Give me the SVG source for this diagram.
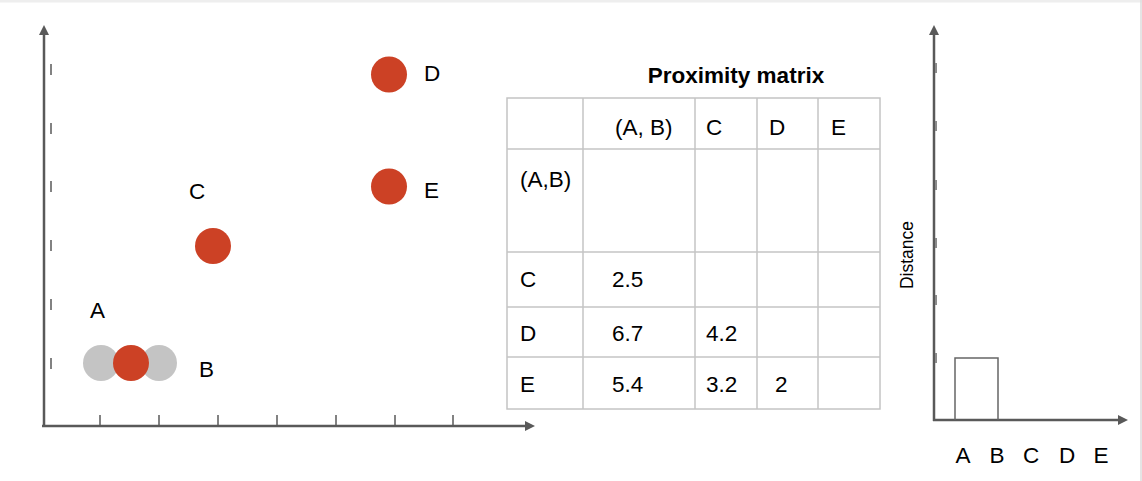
<svg xmlns="http://www.w3.org/2000/svg" width="1142" height="481" viewBox="0 0 1142 481">
<style>
text{font-family:"Liberation Sans",Arial,sans-serif;fill:#000;}
.lbl{font-size:22.5px;}
.cell{font-size:22.5px;}
.title{font-size:22.5px;font-weight:bold;}
.axis{stroke:#595959;stroke-width:2.5;fill:none;}
.tick{stroke:#595959;stroke-width:1.5;}
.rtick{stroke:#8a8a8a;stroke-width:2;}
.grid{stroke:#c4c4c4;stroke-width:1.5;fill:none;}
.red{fill:#cc4125;}
.gray{fill:#c4c4c4;}
.bar{stroke:#666;stroke-width:1.5;fill:none;}
</style>
<defs>
<marker id="arr" viewBox="0 0 10 10" refX="0" refY="5" markerWidth="10" markerHeight="10" markerUnits="userSpaceOnUse" orient="auto">
<path d="M0,0 L10,5 L0,10 z" fill="#595959"/>
</marker>
</defs>
<rect x="0" y="0" width="1142" height="2.5" fill="#eeeeee"/>
<line x1="1141" y1="0" x2="1141" y2="481" stroke="#dddddd" stroke-width="1.5"/>

<g id="connectors">
<line class="axis" x1="44" y1="427" x2="44" y2="35" marker-end="url(#arr)"/>
<line class="axis" x1="42" y1="426" x2="525" y2="426" marker-end="url(#arr)"/>
<line class="axis" x1="934" y1="421" x2="934" y2="35" marker-end="url(#arr)"/>
<line class="axis" x1="933" y1="420" x2="1118" y2="420" marker-end="url(#arr)"/>
</g>

<g id="left-ticks">
<line class="tick" x1="51" y1="64" x2="51" y2="75"/>
<line class="tick" x1="51" y1="123" x2="51" y2="134"/>
<line class="tick" x1="51" y1="181" x2="51" y2="192"/>
<line class="tick" x1="51" y1="240" x2="51" y2="251"/>
<line class="tick" x1="51" y1="299" x2="51" y2="310"/>
<line class="tick" x1="51" y1="358" x2="51" y2="369"/>
<line class="tick" x1="100" y1="415" x2="100" y2="426"/>
<line class="tick" x1="159" y1="415" x2="159" y2="426"/>
<line class="tick" x1="218" y1="415" x2="218" y2="426"/>
<line class="tick" x1="277" y1="415" x2="277" y2="426"/>
<line class="tick" x1="336" y1="415" x2="336" y2="426"/>
<line class="tick" x1="395" y1="415" x2="395" y2="426"/>
<line class="tick" x1="453" y1="415" x2="453" y2="426"/>
</g>

<g id="node-A">
<circle class="gray" cx="101" cy="363" r="18"/>
<text class="lbl" x="90" y="318">A</text>
</g>
<g id="node-B">
<circle class="gray" cx="159" cy="363" r="18"/>
<text class="lbl" x="199" y="377">B</text>
</g>
<g id="node-AB">
<circle class="red" cx="131" cy="363" r="18"/>
</g>
<g id="node-C">
<circle class="red" cx="213" cy="246" r="18"/>
<text class="lbl" x="189" y="199">C</text>
</g>
<g id="node-D">
<circle class="red" cx="389" cy="74.5" r="18"/>
<text class="lbl" x="424" y="81">D</text>
</g>
<g id="node-E">
<circle class="red" cx="389" cy="186.5" r="18"/>
<text class="lbl" x="424" y="198">E</text>
</g>

<g id="proximity-matrix">
<text class="title" x="736" y="83" text-anchor="middle">Proximity matrix</text>
<rect class="grid" x="507" y="98" width="373" height="311"/>
<line class="grid" x1="583" y1="98" x2="583" y2="409"/>
<line class="grid" x1="695" y1="98" x2="695" y2="409"/>
<line class="grid" x1="757" y1="98" x2="757" y2="409"/>
<line class="grid" x1="818" y1="98" x2="818" y2="409"/>
<line class="grid" x1="507" y1="149" x2="880" y2="149"/>
<line class="grid" x1="507" y1="252" x2="880" y2="252"/>
<line class="grid" x1="507" y1="307" x2="880" y2="307"/>
<line class="grid" x1="507" y1="357" x2="880" y2="357"/>
<text class="cell" x="615" y="135">(A, B)</text>
<text class="cell" x="706" y="135">C</text>
<text class="cell" x="769" y="135">D</text>
<text class="cell" x="831" y="135">E</text>
<text class="cell" x="520" y="187">(A,B)</text>
<text class="cell" x="520" y="287">C</text>
<text class="cell" x="612" y="287">2.5</text>
<text class="cell" x="520" y="341">D</text>
<text class="cell" x="612" y="341">6.7</text>
<text class="cell" x="706" y="341">4.2</text>
<text class="cell" x="520" y="392">E</text>
<text class="cell" x="612" y="392">5.4</text>
<text class="cell" x="706" y="392">3.2</text>
<text class="cell" x="775" y="392">2</text>
</g>

<g id="dendrogram">
<line class="rtick" x1="936" y1="63" x2="936" y2="73"/>
<line class="rtick" x1="936" y1="121" x2="936" y2="131"/>
<line class="rtick" x1="936" y1="180" x2="936" y2="190"/>
<line class="rtick" x1="936" y1="238" x2="936" y2="248"/>
<line class="rtick" x1="936" y1="295" x2="936" y2="305"/>
<line class="rtick" x1="936" y1="353" x2="936" y2="363"/>
<polyline class="bar" points="955,420 955,358 998,358 998,420"/>
<text x="913" y="255" font-size="17.5" text-anchor="middle" transform="rotate(-90 913 255)">Distance</text>
<text class="lbl" x="963" y="463" text-anchor="middle">A</text>
<text class="lbl" x="997" y="463" text-anchor="middle">B</text>
<text class="lbl" x="1031" y="463" text-anchor="middle">C</text>
<text class="lbl" x="1067" y="463" text-anchor="middle">D</text>
<text class="lbl" x="1101" y="463" text-anchor="middle">E</text>
</g>
</svg>
